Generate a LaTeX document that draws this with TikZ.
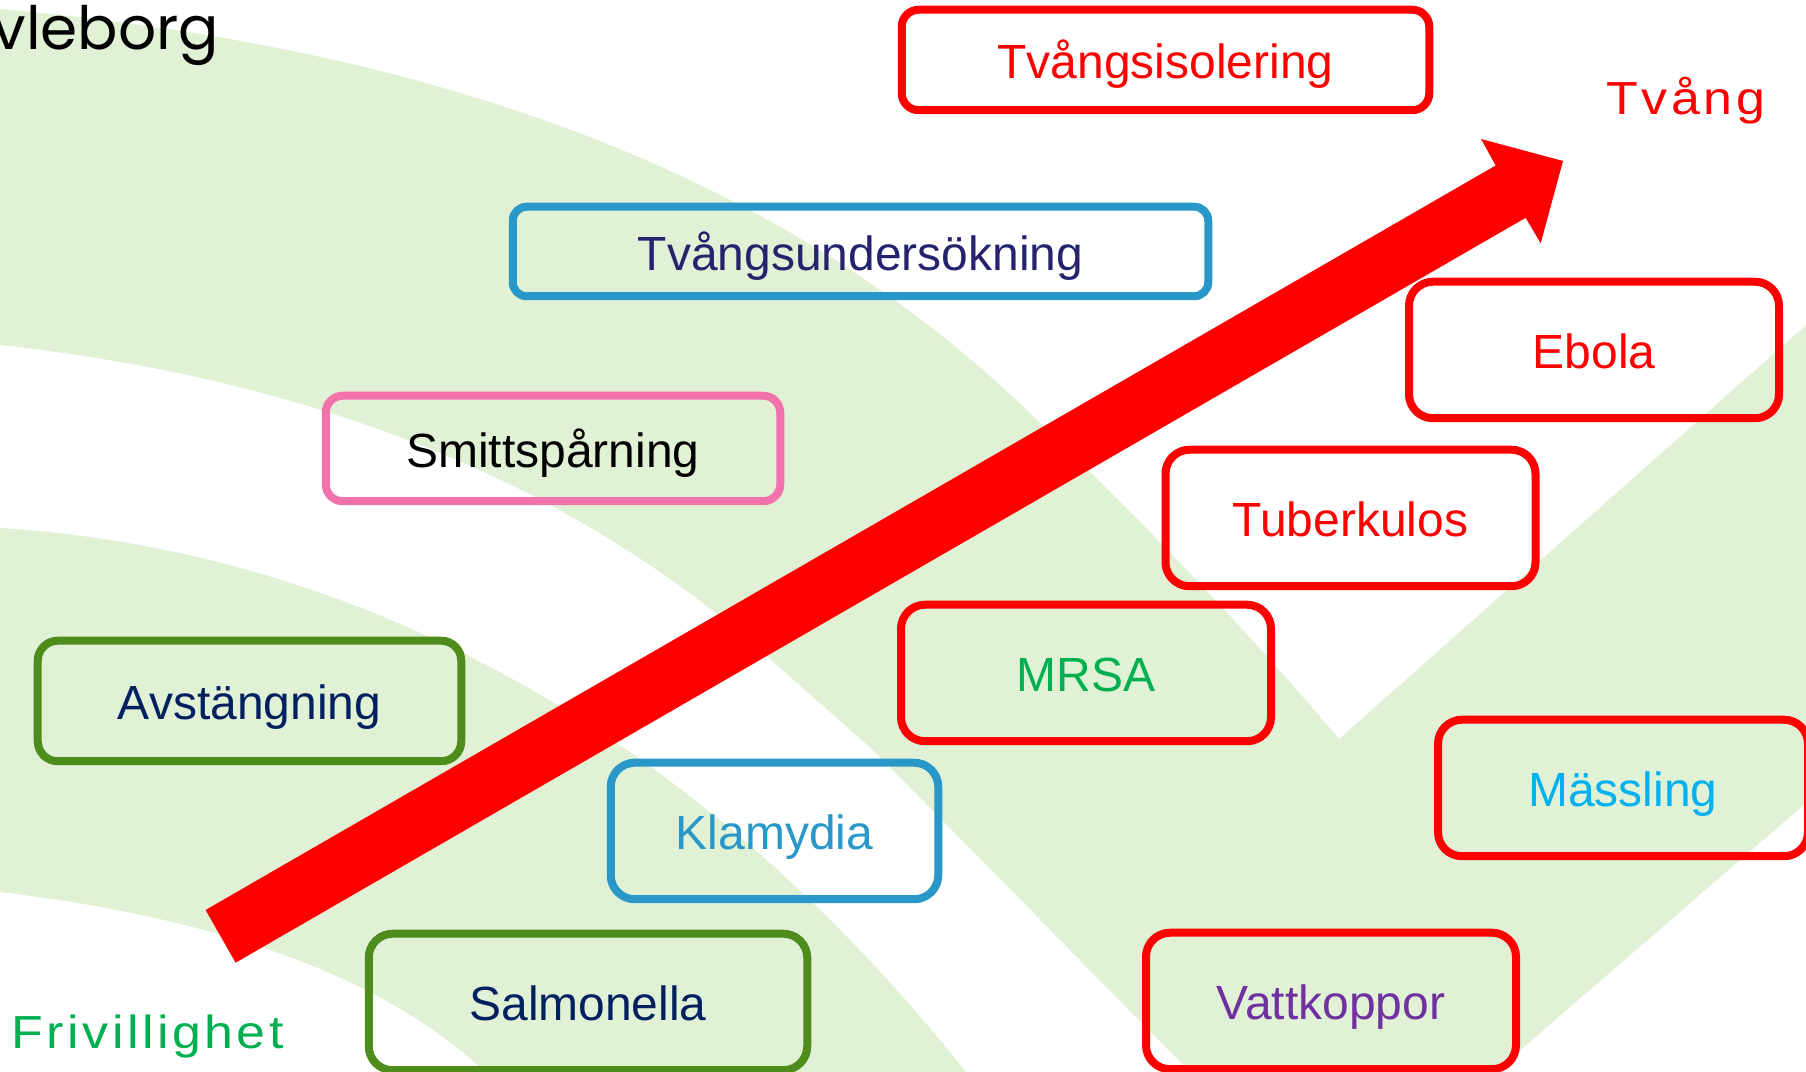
\documentclass[tikz,border=0pt]{standalone}
\usepackage{fontspec}
\setmainfont{Liberation Sans}
\newfontfamily\logofont{Poppins}
\definecolor{bandgreen}{HTML}{E1F1D5}
\definecolor{boxblue}{HTML}{2997C8}
\definecolor{boxpink}{HTML}{F272AC}
\definecolor{boxgreen}{HTML}{4E8C1C}
\definecolor{navytext}{HTML}{002060}
\definecolor{indigotext}{HTML}{25226E}
\definecolor{labelgreen}{HTML}{00B050}
\definecolor{skytext}{HTML}{00B0F0}
\definecolor{purpletext}{HTML}{7030A0}
\tikzset{
  casebox/.style={draw=#1, line width=.8mm, rounded corners=2.4mm, align=center, inner sep=0pt,
    minimum width=3.7cm, minimum height=1.365cm, text height=13pt, text depth=2.45pt,
    font=\fontsize{13.65}{16}\selectfont},
  casebox/.default=red,
  endlabel/.style={anchor=base west, inner sep=0pt, font=\fontsize{13.2}{16}\selectfont\addfontfeature{FakeStretch=1.12,LetterSpace=7.5}}
}

\begin{document}
\begin{tikzpicture}
\useasboundingbox (0,0) rectangle (18.06,10.72);
\clip (0,0) rectangle (18.06,10.72);

% background bands
\fill[bandgreen] (0,10.63) .. controls (4.6,10.22) and (8.0,8.87) .. (10.40,6.49)
  .. controls (11.2,5.72) and (12.3,4.62) .. (13.39,3.33)
  -- (18.06,7.47) -- (18.06,2.69) -- (14.95,0) -- (11.90,0) -- (8.73,3.22) -- (7.70,4.13)
  .. controls (5.77,5.87) and (3.2,6.92) .. (0,7.27) -- cycle;
\fill[bandgreen] (0,5.44) .. controls (3.5,5.22) and (6.9,3.47) .. (9.66,0) -- (4.85,0)
  .. controls (3.87,.93) and (2.25,1.53) .. (0,1.80) -- cycle;

\node (logo) at (2.20,10.22) [anchor=base east, inner sep=0pt, font=\logofont\fontsize{17}{20}\selectfont] {vleborg};

\node (isolering) at (11.655,10.12) [casebox, minimum width=5.275cm, minimum height=1.005cm, rounded corners=1.7mm, text=red] {Tvångsisolering};
\node (undersokning) at (8.605,8.205) [casebox=boxblue, minimum width=6.955cm, minimum height=.895cm, rounded corners=1.4mm, text=indigotext] {Tvångsundersökning};
\node (sparning) at (5.53,6.235) [casebox=boxpink, minimum width=4.545cm, minimum height=1.055cm, rounded corners=1.7mm, text=black] {Smittspårning};
\node (avstangning) at (2.495,3.71) [casebox=boxgreen, minimum width=4.235cm, minimum height=1.205cm, rounded corners=2mm, text=navytext] {Avstängning};
\node (klamydia) at (7.745,2.41) [casebox=boxblue, minimum width=3.275cm, text=boxblue] {Klamydia};
\node (salmonella) at (5.88,.70) [casebox=boxgreen, minimum width=4.385cm, text=navytext] {Salmonella};
\node (mrsa) at (10.86,3.99) [casebox, text=labelgreen] {MRSA};
\node (massling) at (16.23,2.84) [casebox, text=skytext] {Mässling};
\node (vattkoppor) at (13.31,.71) [casebox, text=purpletext] {Vattkoppor};
\node (tuberkulos) at (13.505,5.54) [casebox, text=red] {Tuberkulos};
\node (ebola) at (15.94,7.22) [casebox, text=red] {Ebola};

\fill[red] (2.056,1.62) -- (14.957,9.065) -- (14.81,9.33) -- (15.63,9.11) -- (15.407,8.286) -- (15.257,8.542) -- (2.356,1.093) -- cycle;

\node (frivillighet) at (.11,.23) [endlabel, text=labelgreen] {Frivillighet};
\node (tvang) at (16.06,9.575) [endlabel, text=red] {Tvång};
\end{tikzpicture}
\end{document}
